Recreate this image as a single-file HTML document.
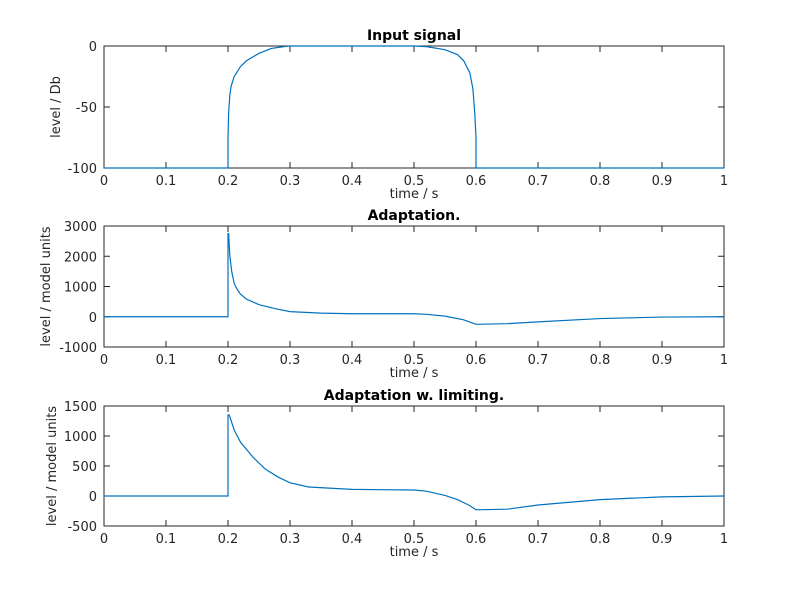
<!DOCTYPE html>
<html><head><meta charset="utf-8"><style>
body{margin:0;background:#fff;}
svg{font-family:"DejaVu Sans","Liberation Sans",sans-serif;}
</style></head><body>
<svg id="fig" width="800" height="600" xmlns="http://www.w3.org/2000/svg">
<rect width="800" height="600" fill="#fff"/>
</svg>
<script>
const xTicks=[0,0.1,0.2,0.3,0.4,0.5,0.6,0.7,0.8,0.9,1];
const xTickLabels=["0","0.1","0.2","0.3","0.4","0.5","0.6","0.7","0.8","0.9","1"];
const t1=[0,0.2,0.2,0.201,0.203,0.205,0.21,0.22,0.23,0.25,0.27,0.29,0.3,0.5,0.52,0.55,0.57,0.58,0.59,0.595,0.598,0.6,0.6,1];
const v1=[-100,-100,-75,-55,-40,-33,-25,-17,-12,-6,-2,-0.5,0,0,-0.5,-3,-7,-12,-22,-35,-55,-75,-100,-100];
const t2=[0,0.2,0.2,0.201,0.203,0.206,0.21,0.215,0.22,0.23,0.25,0.28,0.3,0.35,0.4,0.5,0.52,0.55,0.58,0.6,0.65,0.7,0.8,0.9,1];
const v2=[0,0,2750,2750,2000,1500,1100,900,750,580,400,250,170,120,100,100,80,20,-100,-250,-230,-170,-60,-10,0];
const t3=[0,0.2,0.2,0.202,0.21,0.22,0.24,0.26,0.28,0.3,0.33,0.4,0.5,0.52,0.55,0.57,0.59,0.6,0.65,0.7,0.8,0.9,1];
const v3=[0,0,1350,1350,1100,900,650,450,320,220,150,110,100,80,10,-60,-160,-230,-220,-150,-60,-15,0];
const yTicks1=[-100,-50,0],yTicks2=[-1000,0,1000,2000,3000],yTicks3=[-500,0,500,1000,1500];
const svg=document.getElementById('fig');const NS='http://www.w3.org/2000/svg';
function mk(tag,attrs,parent){const e=document.createElementNS(NS,tag);for(const k in attrs)e.setAttribute(k,attrs[k]);(parent||svg).appendChild(e);return e;}
function panel(name,top,bot,ymin,ymax,yt,ts,vs,title,ylab){
 const L=104,R=724;
 const g=mk('g',{});
 
 
 const X=v=>L+(R-L)*v, Y=v=>bot-(bot-top)*(v-ymin)/(ymax-ymin);
 mk('rect',{x:L,y:top,width:R-L,height:bot-top,fill:'#fff',stroke:'#262626','stroke-width':1},g);
 xTicks.forEach((v,i)=>{
  mk('line',{x1:X(v),x2:X(v),y1:bot,y2:bot-6,stroke:'#262626'},g);
  mk('line',{x1:X(v),x2:X(v),y1:top,y2:top+6,stroke:'#262626'},g);
  const tx=mk('text',{x:X(v),y:bot+17,'text-anchor':'middle','font-size':13,fill:'#262626'},g);
  
  
  tx.textContent=xTickLabels[i];
 });
 yt.forEach(v=>{
  mk('line',{x1:L,x2:L+6,y1:Y(v),y2:Y(v),stroke:'#262626'},g);
  mk('line',{x1:R,x2:R-6,y1:Y(v),y2:Y(v),stroke:'#262626'},g);
  const tx=mk('text',{x:L-7,y:Y(v)+5,'text-anchor':'end','font-size':13,fill:'#262626'},g);
  
  
  tx.textContent=String(v);
 });
 const pts=ts.map((t,i)=>X(t)+','+Y(vs[i])).join(' ');
 const pl=mk('polyline',{points:pts,fill:'none',stroke:'#0072bd','stroke-width':1.2},g);
 
 
 const ti=mk('text',{x:(L+R)/2,y:top-6,'text-anchor':'middle','font-size':14,'font-weight':'bold',fill:'#000'},g);
 
 
 ti.textContent=title;
 const xl=mk('text',{x:(L+R)/2,y:bot+30,'text-anchor':'middle','font-size':13,fill:'#262626'},g);
 
 
 xl.textContent='time / s';
 const cy=(top+bot)/2;
 const yl=mk('text',{x:0,y:0,transform:`translate(${ylab[1]},${cy}) rotate(-90)`,'text-anchor':'middle','font-size':13,fill:'#262626'},g);
 
 
 yl.textContent=ylab[0];
}
panel('input-signal-panel',46,168,-100,0,yTicks1,t1,v1,'Input signal',['level / Db',60]);
panel('adaptation-panel',226,347,-1000,3000,yTicks2,t2,v2,'Adaptation.',['level / model units',50]);
panel('adaptation-limiting-panel',406,526,-500,1500,yTicks3,t3,v3,'Adaptation w. limiting.',['level / model units',56]);
</script>
</body></html>
